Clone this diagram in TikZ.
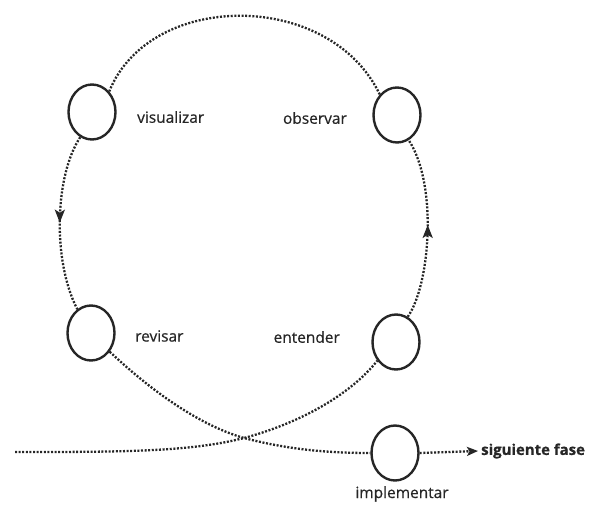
\documentclass[tikz,border=0pt]{standalone}
\usepackage{fontspec}
\setmainfont{Open Sans}[FakeBold=0.6]
\usetikzlibrary{arrows.meta,decorations.markings,shapes.geometric}
\definecolor{ink}{HTML}{262626}

\begin{document}
\begin{tikzpicture}[x=1bp,y=-1bp,>=Stealth,
  stage/.style={ellipse,draw=ink,line width=2.4bp,minimum width=47bp,minimum height=55bp,inner sep=0pt},
  lbl/.style={text=ink,font=\fontsize{15.5}{18}\selectfont,inner sep=1bp},
  flow/.style={draw=ink,line width=2.3bp,dash pattern=on 2bp off 1.6bp},
  tipmid/.style={postaction={decorate,solid},decoration={markings,
    mark=at position #1 with {\arrow{Stealth[length=13bp,width=10bp,inset=3bp]}}}}]
  \useasboundingbox (0,0) rectangle (597,508);
  \node[stage] (vis) at (92,112) {};
  \node[stage] (obs) at (397,115) {};
  \node[stage] (rev) at (91,333) {};
  \node[stage] (ent) at (396,342) {};
  \node[stage] (imp) at (395,453) {};
  \coordinate (start) at (15,452);
  \coordinate (cross) at (244,438);
  \node[lbl,anchor=west] (tvis) at (136,117) {visualizar};
  \node[lbl,anchor=east] (tobs) at (348,118) {observar};
  \node[lbl,anchor=west] (trev) at (134,336) {revisar};
  \node[lbl,anchor=east] (tent) at (341,337) {entender};
  \node[lbl] (timp) at (402,494) {implementar};
  \node[lbl,anchor=west,font=\fontsize{15}{18}\selectfont\bfseries] (fase) at (480,451) {siguiente fase};
  % el ciclo
  \draw[flow] (start) .. controls (120,452) and (190,452) .. (cross)
    .. controls (300,423) and (350,395) .. (ent.225);
  \draw[flow,tipmid=0.52] (ent.65) .. controls (430,285) and (438,185) .. (obs.295);
  \draw[flow] (obs.130) .. controls (330,-10) and (150,-10) .. (vis.50);
  \draw[flow,tipmid=0.5] (vis.245) .. controls (55,175) and (52,260) .. (rev.120);
  \draw[flow] (rev.-45) .. controls (145,385) and (195,424) .. (cross)
    .. controls (290,450) and (330,453) .. (imp.west);
  \draw[flow,-{Stealth[length=11bp,width=9bp,inset=2.5bp]}] (imp.east) -- ([xshift=-2bp]fase.west);
\end{tikzpicture}
\end{document}
